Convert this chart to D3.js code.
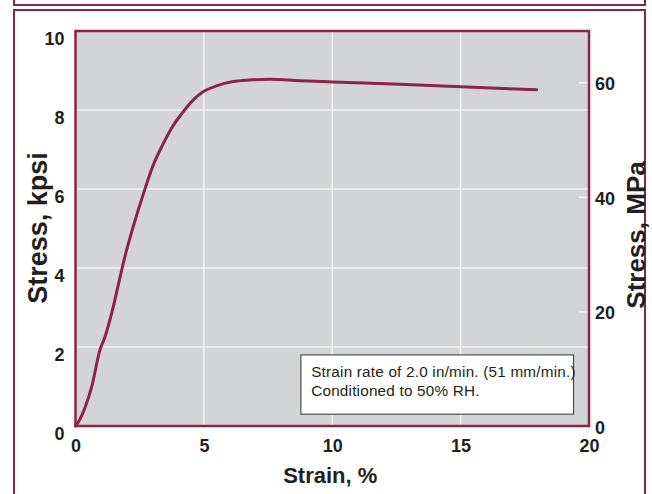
<!DOCTYPE html>
<html>
<head>
<meta charset="utf-8">
<script src="https://cdn.jsdelivr.net/npm/d3@7"></script>
<style>
  html, body { margin: 0; padding: 0; background: #fff; }
  svg { display: block; font-family: "Liberation Sans", Arial, sans-serif; }
</style>
</head>
<body>
<svg id="chart" width="652" height="494"></svg>
<script>
// Tensile stress–strain curve
const strainPct = [0, 0.12, 0.4, 0.63, 0.95, 1.15, 1.41, 1.73, 1.89, 2.25, 2.7, 3.03, 3.38, 3.74, 4.13, 4.58, 4.97, 5.49, 6.14, 6.79, 7.57, 8.74, 10.03, 12.63, 15.0, 17.96];
const stressKpsi = [0, 0.11, 0.52, 0.99, 1.92, 2.26, 2.86, 3.75, 4.2, 5.05, 5.99, 6.61, 7.1, 7.54, 7.9, 8.25, 8.46, 8.61, 8.72, 8.76, 8.78, 8.74, 8.71, 8.65, 8.59, 8.51];

const strainTicks = [0, 5, 10, 15, 20];
const kpsiTicks = [0, 2, 4, 6, 8, 10];
const mpaTicks = [0, 20, 40, 60];
const KPSI_TO_MPA = 6.895;

const noteLines = ["Strain rate of 2.0 in/min. (51 mm/min.)", "Conditioned to 50% RH."];

const maroon = "#8c2445";
const ink = "#231f20";

const svg = d3.select("#chart");

const plot = { left: 75.5, right: 589, top: 31, bottom: 426 };

const x = d3.scaleLinear().domain([0, 20]).range([plot.left, plot.right]);
const y = d3.scaleLinear().domain([0, 10]).range([plot.bottom, plot.top]);
const yMpa = d3.scaleLinear().domain([0, 10 * KPSI_TO_MPA]).range([plot.bottom, plot.top]);

// panel frames
svg.append("path")
  .attr("d", `M14,0 V5 H645 V0`)
  .attr("fill", "none").attr("stroke", maroon).attr("stroke-width", 2);
svg.append("path")
  .attr("d", `M14,494 V10 H645 V494`)
  .attr("fill", "none").attr("stroke", maroon).attr("stroke-width", 2);

// plot background
svg.append("rect")
  .attr("x", plot.left).attr("y", plot.top)
  .attr("width", plot.right - plot.left).attr("height", plot.bottom - plot.top)
  .attr("fill", "#d3d4d6");

// grid
const grid = svg.append("g").attr("stroke", "#f4f4f4").attr("stroke-width", 1.5);
grid.selectAll("line.h").data(kpsiTicks.filter(d => d > 0 && d < 10)).join("line")
  .attr("class", "h")
  .attr("x1", plot.left).attr("x2", plot.right)
  .attr("y1", d => y(d)).attr("y2", d => y(d));
grid.selectAll("line.v").data(strainTicks.filter(d => d > 0 && d < 20)).join("line")
  .attr("class", "v")
  .attr("y1", plot.top).attr("y2", plot.bottom)
  .attr("x1", d => x(d)).attr("x2", d => x(d));

// note box
const note = svg.append("g");
note.append("rect")
  .attr("x", x(8.78)).attr("y", y(1.8))
  .attr("width", x(19.4) - x(8.78)).attr("height", y(0.3) - y(1.8))
  .attr("fill", "#fff").attr("stroke", "#333").attr("stroke-width", 1);
note.selectAll("text").data(noteLines).join("text")
  .attr("x", x(9.18))
  .attr("y", (d, i) => y(1.8) + 22 + i * 19)
  .attr("font-size", 15.3)
  .attr("letter-spacing", 0.2)
  .attr("fill", ink)
  .text(d => d);

// right axis (MPa)
const rightAxis = svg.append("g")
  .attr("transform", `translate(${plot.right},0)`)
  .call(d3.axisRight(yMpa).tickValues(mpaTicks).tickSize(-10).tickPadding(6));
rightAxis.select(".domain").remove();
rightAxis.selectAll("line").attr("stroke", "#f4f4f4").attr("stroke-width", 1.5);
rightAxis.selectAll("text")
  .attr("font-size", 18).attr("font-weight", "bold").attr("fill", ink)
  .attr("font-family", "'Liberation Sans', Arial, sans-serif")
  .attr("dy", "0.42em");

// curve
const pts = strainPct.map((s, i) => [s, stressKpsi[i]]);
svg.append("path")
  .datum(pts)
  .attr("fill", "none")
  .attr("stroke", maroon)
  .attr("stroke-width", 3)
  .attr("stroke-linejoin", "round")
  .attr("stroke-linecap", "round")
  .attr("d", d3.line().x(d => x(d[0])).y(d => y(d[1])).curve(d3.curveMonotoneX));

// plot border
svg.append("rect")
  .attr("x", plot.left).attr("y", plot.top)
  .attr("width", plot.right - plot.left).attr("height", plot.bottom - plot.top)
  .attr("fill", "none").attr("stroke", maroon).attr("stroke-width", 2.5);

// left axis (kpsi)
const leftAxis = svg.append("g")
  .attr("transform", `translate(${plot.left},0)`)
  .call(d3.axisLeft(y).tickValues(kpsiTicks).tickSize(0).tickPadding(11));
leftAxis.select(".domain").remove();
leftAxis.selectAll("text")
  .attr("font-size", 18).attr("font-weight", "bold").attr("fill", ink)
  .attr("font-family", "'Liberation Sans', Arial, sans-serif")
  .attr("dy", "0.73em");

// bottom axis (strain)
const bottomAxis = svg.append("g")
  .attr("transform", `translate(0,${plot.bottom})`)
  .call(d3.axisBottom(x).tickValues(strainTicks).tickSize(0).tickPadding(13));
bottomAxis.select(".domain").remove();
bottomAxis.selectAll("text")
  .attr("font-size", 18).attr("font-weight", "bold").attr("fill", ink)
  .attr("font-family", "'Liberation Sans', Arial, sans-serif");

// axis titles
svg.append("text")
  .attr("x", (plot.left + plot.right) / 2 - 2).attr("y", 483)
  .attr("text-anchor", "middle")
  .attr("font-size", 22).attr("font-weight", "bold").attr("fill", ink)
  .text("Strain, %");

svg.append("text")
  .attr("transform", `translate(47,228) rotate(-90)`)
  .attr("text-anchor", "middle")
  .attr("font-size", 27).attr("font-weight", "bold").attr("fill", ink)
  .text("Stress, kpsi");

svg.append("text")
  .attr("transform", `translate(645,235) rotate(-90)`)
  .attr("text-anchor", "middle")
  .attr("font-size", 26).attr("font-weight", "bold").attr("fill", ink)
  .text("Stress, MPa");
</script>
</body>
</html>
